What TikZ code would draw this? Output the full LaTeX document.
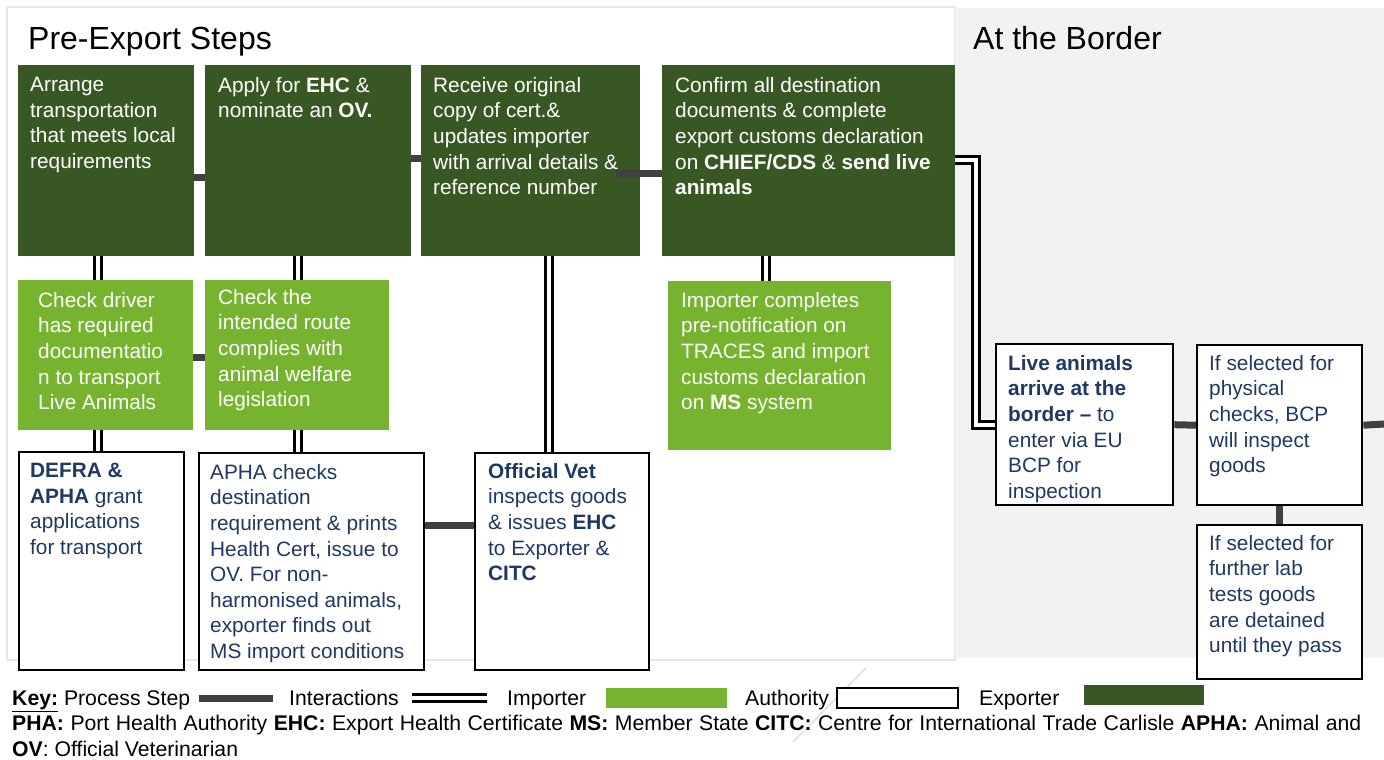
\documentclass[tikz,border=0pt]{standalone}
\usepackage{fontspec}
\setmainfont{Liberation Sans}
\usetikzlibrary{calc}
\definecolor{dkgreen}{HTML}{385723}
\definecolor{ltgreen}{HTML}{76B32F}
\definecolor{navy}{HTML}{1F3864}
\definecolor{procgray}{HTML}{404040}
\definecolor{panelgray}{HTML}{F2F2F2}
\definecolor{panelline}{HTML}{E6E6E6}
\newcommand\fs{\fontsize{20.8}{25.6}\selectfont}
\newcommand\ks{\fontsize{21.2}{25.5}\selectfont}
\newcommand\ts{\fontsize{32}{38}\selectfont}
\tikzset{
 expbox/.style={fill=dkgreen, draw=none, anchor=north west, inner sep=0},
 impbox/.style={fill=ltgreen, draw=none, anchor=north west, inner sep=0},
 autbox/.style={fill=white, draw=black, line width=2.4, anchor=north west, inner sep=0},
 tw/.style={anchor=north west, inner sep=0, align=left, font=\fs, text=white},
 tn/.style={anchor=north west, inner sep=0, align=left, font=\fs, text=navy},
 proc/.style={draw=procgray, line width=7},
 inter/.style={draw=black, line width=3.2, double=white, double distance=3.6, line join=miter},
 keytxt/.style={anchor=base west, inner sep=0, font=\ks, text=black},
 ttl/.style={anchor=base west, inner sep=0, font=\ts, text=black},
}
\begin{document}
\begin{tikzpicture}[x=1pt,y=-1pt]
\useasboundingbox (0,0) rectangle (1384,760);
% panels
\draw[draw=panelline, line width=1.5, fill=white] (7,7) rectangle (955,660);
\fill[panelgray] (955,8) rectangle (1384,658);
\node[ttl] (t1) at (28,49) {Pre-Export Steps};
\node[ttl] (t2) at (973,49) {At the Border};

% exporter boxes
\node[expbox, minimum width=176, minimum height=191] (A) at (18,65) {};
\node[expbox, minimum width=206, minimum height=191] (B) at (205,65) {};
\node[expbox, minimum width=219, minimum height=191] (C) at (421,65) {};
\node[expbox, minimum width=293, minimum height=191] (D) at (662,65) {};
% importer boxes
\node[impbox, minimum width=175, minimum height=150] (G1) at (18,280) {};
\node[impbox, minimum width=184, minimum height=150] (G2) at (205,280) {};
\node[impbox, minimum width=223, minimum height=169] (G3) at (668,281) {};
% authority boxes
\node[autbox, minimum width=165, minimum height=218] (W1) at (18,451) {};
\node[autbox, minimum width=225, minimum height=217] (W2) at (198,452) {};
\node[autbox, minimum width=174, minimum height=217] (W3) at (474,452) {};
\node[autbox, minimum width=177, minimum height=161] (L1) at (995,343) {};
\node[autbox, minimum width=165, minimum height=160] (L2) at (1196,344) {};
\node[autbox, minimum width=165, minimum height=154] (L3) at (1196,524) {};
\coordinate (edgeR) at (1384,424);

% texts
\node[tw] (At) at (30,77) {Arrange\\transportation\\that meets local\\requirements};
\node[tw] (Bt) at (218,77) {Apply for \textbf{EHC} \&\\nominate an \textbf{OV.}};
\node[tw] (Ct) at (433,77) {Receive original\\copy of cert.\&\\updates importer\\with arrival details \&\\reference number};
\node[tw] (Dt) at (675,77) {Confirm all destination\\documents \& complete\\export customs declaration\\on \textbf{CHIEF/CDS} \& \textbf{send live}\\\textbf{animals}};
\node[tw] (G1t) at (38,292) {Check driver\\has required\\documentatio\\n to transport\\Live Animals};
\node[tw] (G2t) at (218,289) {Check the\\intended route\\complies with\\animal welfare\\legislation};
\node[tw] (G3t) at (681,292) {Importer completes\\pre-notification on\\TRACES and import\\customs declaration\\on \textbf{MS} system};
\node[tn] (W1t) at (30,463) {\textbf{DEFRA \&}\\\textbf{APHA} grant\\applications\\for transport};
\node[tn] (W2t) at (210,464) {APHA checks\\destination\\requirement \& prints\\Health Cert, issue to\\OV. For non-\\harmonised animals,\\exporter finds out\\MS import conditions};
\node[tn] (W3t) at (488,463) {\textbf{Official Vet}\\inspects goods\\\& issues \textbf{EHC}\\to Exporter \&\\\textbf{CITC}};
\node[tn] (L1t) at (1008,355) {\textbf{Live animals}\\\textbf{arrive at the}\\\textbf{border –} to\\enter via EU\\BCP for\\inspection};
\node[tn] (L2t) at (1209,355) {If selected for\\physical\\checks, BCP\\will inspect\\goods};
\node[tn] (L3t) at (1209,535) {If selected for\\further lab\\tests goods\\are detained\\until they pass};

% process steps
\draw[proc] ($(A.north east)+(0,112)$) -- ($(B.north west)+(0,112)$);
\draw[proc] ($(B.north east)+(0,93)$) -- ($(C.north west)+(0,93)$);
\draw[proc] ($(C.north east)+(-24,108)$) -- ($(D.north west)+(0,108)$);
\draw[proc] ($(G1.north east)+(0,77)$) -- ($(G2.north west)+(0,77)$);
\draw[proc] ($(W2.north east)+(0,73)$) -- ($(W3.north west)+(0,73)$);
\draw[proc] (L1.east) -- (L2.west);
\draw[proc] (L2.east) -- (edgeR);
\draw[proc] (L2.south) -- (L3.north);

% interactions
\draw[inter] ($(A.south west)+(80,0)$) -- ($(G1.north west)+(80,0)$);
\draw[inter] ($(G1.south west)+(80,0)$) -- ($(W1.north west)+(80,0)$);
\draw[inter] ($(B.south west)+(93,0)$) -- ($(G2.north west)+(93,0)$);
\draw[inter] ($(G2.south west)+(93,0)$) -- ($(W2.north west)+(100,0)$);
\draw[inter] ($(C.south west)+(128,0)$) -- ($(W3.north west)+(75,0)$);
\draw[inter] ($(D.south west)+(104,0)$) -- ($(G3.north west)+(98,0)$);
\draw[inter] ($(D.north east)+(0,95)$) -| ($(L1.west)+(-19,0)$) -- (L1.west);

% faint mark
\draw[gray!25, line width=1.5] (866,668) -- (793,742);

% key
\node[keytxt] (k0) at (12,705) {\underline{\textbf{Key:}} Process Step};
\coordinate (kp1) at (199,698); \coordinate (kp2) at (273,698);
\draw[proc] (kp1) -- (kp2);
\node[keytxt] (k1) at (289,705) {Interactions};
\coordinate (ki1) at (412,698); \coordinate (ki2) at (487,698);
\draw[inter] (ki1) -- (ki2);
\node[keytxt] (k2) at (507,705) {Importer};
\node[impbox, minimum width=121, minimum height=20] (kimp) at (606,688) {};
\node[keytxt] (k3) at (745,705) {Authority};
\node[autbox, line width=2, minimum width=121, minimum height=20] (kaut) at (836,687) {};
\node[keytxt] (k4) at (979,705) {Exporter};
\node[expbox, minimum width=120, minimum height=20] (kexp) at (1084,685) {};
\node[keytxt] (k5) at (12,730) {\makebox[1349pt][s]{\textbf{PHA:} Port Health Authority \textbf{EHC:} Export Health Certificate \textbf{MS:} Member State \textbf{CITC:} Centre for International Trade Carlisle \textbf{APHA:} Animal and}};
\node[keytxt] (k6) at (12,756) {\textbf{OV}: Official Veterinarian};
\end{tikzpicture}
\end{document}
